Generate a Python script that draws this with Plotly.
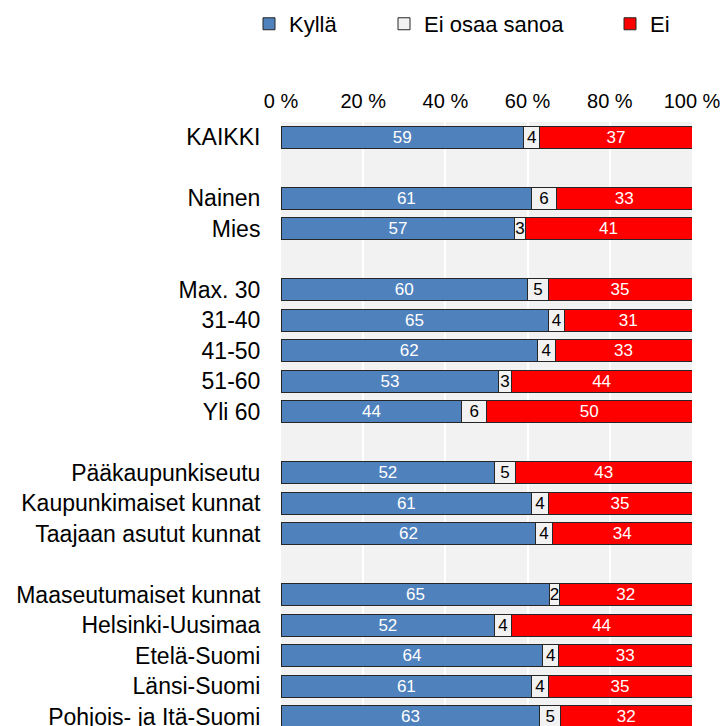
import plotly.graph_objects as go

categories = ["KAIKKI", " ", "Nainen", "Mies", "  ", "Max. 30", "31-40", "41-50", "51-60", "Yli 60",
              "   ", "Pääkaupunkiseutu", "Kaupunkimaiset kunnat", "Taajaan asutut kunnat", "    ",
              "Maaseutumaiset kunnat", "Helsinki-Uusimaa", "Etelä-Suomi", "Länsi-Suomi", "Pohjois- ja Itä-Suomi"]

kylla = [59, None, 61, 56.9, None, 60, 65, 62.4, 53, 44, None, 52, 61, 62, None, 65.4, 52, 63.7, 61, 63]
eos = [4, None, 6, 2.5, None, 5, 4, 4.3, 3, 6, None, 5, 4, 4, None, 2.3, 4, 3.8, 4, 5]
ei = [37, None, 33, 40.6, None, 35, 31, 33.3, 44, 50, None, 43, 35, 34, None, 32.3, 44, 32.5, 35, 32]

kylla_lbl = ["59", "", "61", "57", "", "60", "65", "62", "53", "44", "", "52", "61", "62", "", "65", "52", "64", "61", "63"]
eos_lbl = ["4", "", "6", "3", "", "5", "4", "4", "3", "6", "", "5", "4", "4", "", "2", "4", "4", "4", "5"]
ei_lbl = ["37", "", "33", "41", "", "35", "31", "33", "44", "50", "", "43", "35", "34", "", "32", "44", "33", "35", "32"]

tick_vals = [0, 20, 40, 60, 80, 100]
tick_text = ["0 %", "20 %", "40 %", "60 %", "80 %", "100 %"]

FONT = "Liberation Sans, Arial, sans-serif"

series = [
    ("Kyllä", kylla, kylla_lbl, "#4f81bd", "white", "legend"),
    ("Ei osaa sanoa", eos, eos_lbl, "#f2f2f2", "black", "legend2"),
    ("Ei", ei, ei_lbl, "#ff0000", "white", "legend3"),
]

fig = go.Figure()
for name, vals, lbls, col, tcol, lg in series:
    fig.add_trace(go.Bar(
        name=name, y=categories, x=vals, orientation="h",
        text=lbls, textposition="inside", insidetextanchor="middle",
        textangle=0, constraintext="none",
        textfont=dict(color=tcol, size=17, family=FONT),
        marker=dict(color=col, line=dict(color="#262626", width=1)),
        width=0.72, legend=lg, hoverinfo="skip", showlegend=True,
    ))

legend_common = dict(orientation="h", yref="container", xref="container", y=0.967, yanchor="middle",
                     xanchor="left", bgcolor="rgba(0,0,0,0)", itemwidth=30,
                     font=dict(size=22, family=FONT, color="black"))

fig.update_layout(
    width=723, height=726,
    margin=dict(l=281, r=31, t=122, b=0),
    barmode="stack",
    showlegend=True,
    plot_bgcolor="#f2f2f2", paper_bgcolor="white",
    font=dict(family=FONT, size=22, color="black"),
    legend=dict(x=249 / 723, **legend_common),
    legend2=dict(x=384 / 723, **legend_common),
    legend3=dict(x=610 / 723, **legend_common),
    xaxis=dict(side="top", range=[0, 100], tickmode="array", tickvals=tick_vals, ticktext=tick_text,
               showgrid=True, gridcolor="white", gridwidth=1.5, zeroline=False, showline=False,
               ticks="outside", ticklen=5, tickcolor="rgba(0,0,0,0)",
               ticklabeloverflow="allow", automargin=False,
               tickfont=dict(size=20)),
    yaxis=dict(categoryorder="array", categoryarray=categories, range=[19.3, -0.5],
               showgrid=False, zeroline=False, showline=False,
               ticks="outside", ticklen=15, tickcolor="rgba(0,0,0,0)",
               automargin=False,
               tickfont=dict(size=23)),
)

fig.write_html("out.html", config={"displayModeBar": False},
               post_script="document.body.style.margin='0';document.body.style.overflow='hidden';")
